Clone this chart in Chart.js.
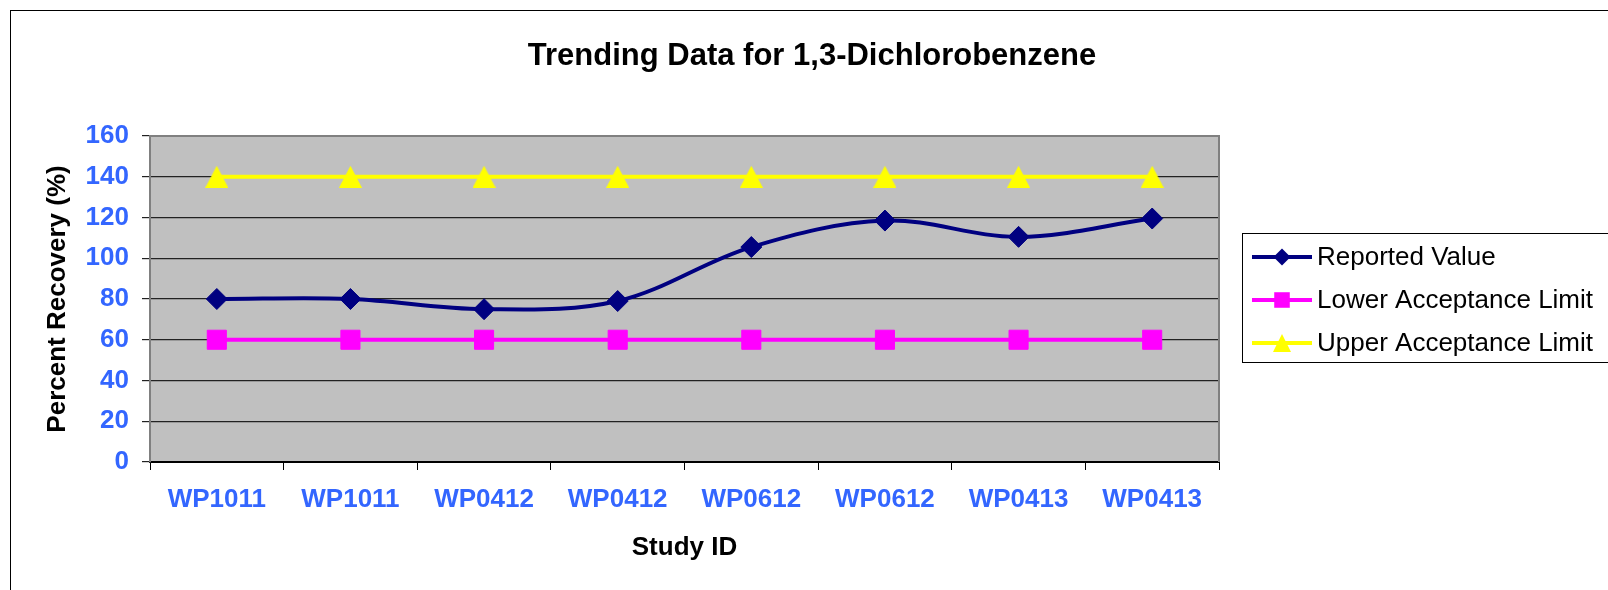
<!DOCTYPE html>
<html>
<head>
<meta charset="utf-8">
<title>Trending Data for 1,3-Dichlorobenzene</title>
<script src="https://cdn.jsdelivr.net/npm/chart.js@4.4.1/dist/chart.umd.min.js"></script>
<style>
  html, body { margin: 0; padding: 0; background: #fff; }
  #wrap { position: relative; width: 1608px; height: 590px; overflow: hidden; }
</style>
</head>
<body>
<div id="wrap"><canvas id="trendChart" width="1608" height="590"></canvas></div>
<script>
"use strict";

// данные графика
const chartTitle = "Trending Data for 1,3-Dichlorobenzene";
const studyIds = ["WP1011", "WP1011", "WP0412", "WP0412", "WP0612", "WP0612", "WP0413", "WP0413"];
const reportedValues = [80, 80, 75, 79, 105.5, 118.5, 110.5, 119.5];
const lowerLimit = [60, 60, 60, 60, 60, 60, 60, 60];
const upperLimit = [140, 140, 140, 140, 140, 140, 140, 140];
const yMin = 0;
const yMax = 160;
const yStep = 20;

const FONT = '"Liberation Sans", Arial, sans-serif';
const TICK_BLUE = "#3366FF";
const boldFont = { family: FONT, size: 26, weight: "bold", lineHeight: 1.2 };

// треугольник как в Excel (ширина ~ высоте)
function makeTriangle(w, h, color) {
  const c = document.createElement("canvas");
  c.width = w;
  c.height = h;
  const g = c.getContext("2d");
  g.fillStyle = color;
  g.beginPath();
  g.moveTo(w / 2, 0);
  g.lineTo(w, h);
  g.lineTo(0, h);
  g.closePath();
  g.fill();
  return c;
}
const bigTriangle = makeTriangle(23, 22, "#FFFF00");
const smallTriangle = makeTriangle(18, 18, "#FFFF00");

// серый фон области построения и рамки
const plotFrame = {
  id: "plotFrame",
  beforeDraw(chart) {
    const { ctx, chartArea: a } = chart;
    ctx.save();
    ctx.fillStyle = "#fff";
    ctx.fillRect(0, 0, chart.width, chart.height);
    ctx.strokeStyle = "#000";
    ctx.lineWidth = 1;
    ctx.strokeRect(10.5, 10.5, chart.width + 40, chart.height + 40);
    ctx.fillStyle = "#C0C0C0";
    ctx.fillRect(a.left, a.top, a.width, a.height);
    ctx.restore();
  },
  beforeDatasetsDraw(chart) {
    const { ctx, chartArea: a } = chart;
    ctx.save();
    ctx.strokeStyle = "#808080";
    ctx.lineWidth = 2;
    ctx.beginPath();
    ctx.moveTo(a.left, a.top);
    ctx.lineTo(a.right, a.top);
    ctx.lineTo(a.right, a.bottom);
    ctx.stroke();
    ctx.restore();
  },
};

// заголовок и легенда справа
const titleAndLegend = {
  id: "titleAndLegend",
  afterDraw(chart) {
    const ctx = chart.ctx;
    ctx.save();
    ctx.fillStyle = "#000";
    ctx.font = "bold 31px " + FONT;
    ctx.textAlign = "center";
    ctx.textBaseline = "alphabetic";
    ctx.fillText(chartTitle, 812, 65);

    ctx.strokeStyle = "#000";
    ctx.lineWidth = 1;
    ctx.strokeRect(1242.5, 233.5, 420, 129);

    const legendMarks = [
      { pointStyle: "rectRot", radius: 8.5 },
      { pointStyle: "rect", radius: 11 },
      { pointStyle: smallTriangle, radius: 9 },
    ];
    chart.data.datasets.forEach((ds, i) => {
      const y = 257 + i * 43;
      ctx.strokeStyle = ds.borderColor;
      ctx.lineWidth = 4;
      ctx.beginPath();
      ctx.moveTo(1252, y);
      ctx.lineTo(1312, y);
      ctx.stroke();
      ctx.fillStyle = ds.pointBackgroundColor;
      ctx.lineWidth = 1;
      Chart.helpers.drawPoint(
        ctx,
        { pointStyle: legendMarks[i].pointStyle, radius: legendMarks[i].radius, rotation: 0, borderWidth: 0 },
        1282,
        y
      );
      ctx.fillStyle = "#000";
      ctx.font = "26px " + FONT;
      ctx.textAlign = "left";
      ctx.textBaseline = "middle";
      ctx.fillText(ds.label, 1317, y + 1);
    });
    ctx.restore();
  },
};

const ctx = document.getElementById("trendChart");
new Chart(ctx, {
  type: "line",
  data: {
    labels: studyIds,
    datasets: [
      {
        label: "Reported Value",
        data: reportedValues,
        borderColor: "#000080",
        backgroundColor: "#000080",
        pointBackgroundColor: "#000080",
        pointBorderColor: "#000080",
        borderWidth: 4,
        pointStyle: "rectRot",
        pointRadius: 10.5,
        pointBorderWidth: 1,
        tension: 0.35,
      },
      {
        label: "Lower Acceptance Limit",
        data: lowerLimit,
        borderColor: "#FF00FF",
        backgroundColor: "#FF00FF",
        pointBackgroundColor: "#FF00FF",
        pointBorderColor: "#FF00FF",
        borderWidth: 4,
        pointStyle: "rect",
        pointRadius: 13.5,
        pointBorderWidth: 1,
      },
      {
        label: "Upper Acceptance Limit",
        data: upperLimit,
        borderColor: "#FFFF00",
        backgroundColor: "#FFFF00",
        pointBackgroundColor: "#FFFF00",
        pointBorderColor: "#FFFF00",
        borderWidth: 4,
        pointStyle: bigTriangle,
        pointRadius: 12,
      },
    ],
  },
  options: {
    responsive: false,
    animation: false,
    layout: { padding: { left: 30, right: 389, top: 136, bottom: 27 } },
    plugins: {
      legend: { display: false },
      title: { display: false },
      tooltip: { enabled: false },
    },
    scales: {
      x: {
        offset: true,
        grid: { offset: true, drawOnChartArea: false, tickLength: 8, color: "#000", lineWidth: 1 },
        border: { color: "#000", width: 2 },
        ticks: { color: TICK_BLUE, font: boldFont, padding: 14, maxRotation: 0, autoSkip: false },
        title: {
          display: true,
          text: "Study ID",
          color: "#000",
          font: boldFont,
          padding: { top: 2, bottom: 0 },
        },
        afterFit(scale) {
          scale.height = 101;
        },
      },
      y: {
        min: yMin,
        max: yMax,
        ticks: { stepSize: yStep, color: TICK_BLUE, font: boldFont, padding: 13 },
        grid: { color: "#222", lineWidth: 1.2, tickLength: 8 },
        border: { color: "#808080", width: 2 },
        title: {
          display: true,
          text: "Percent Recovery (%)",
          color: "#000",
          font: boldFont,
          padding: { top: 12, bottom: 0 },
        },
        afterFit(scale) {
          scale.width = 120;
        },
      },
    },
  },
  plugins: [plotFrame, titleAndLegend],
});
</script>
</body>
</html>
